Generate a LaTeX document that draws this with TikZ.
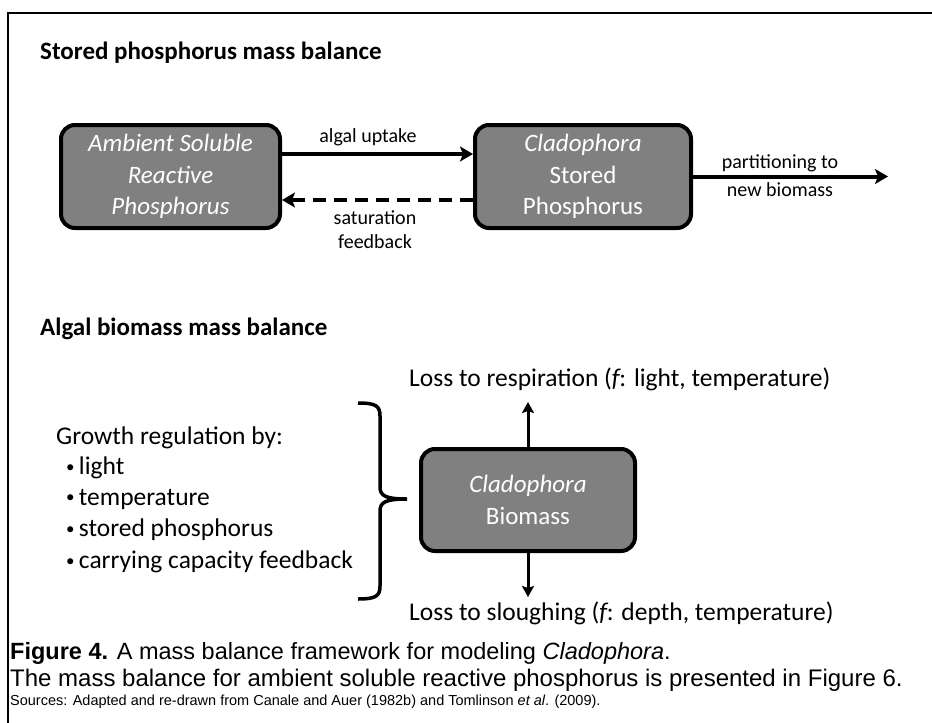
\documentclass[tikz,border=0pt]{standalone}
\usepackage{fontspec}
\setmainfont{Carlito}
\newfontfamily\capfont{Liberation Sans}
\usepackage{tikz}
\usetikzlibrary{arrows.meta}
\definecolor{poolgray}{RGB}{128,128,128}
\newcommand{\bul}{\raisebox{2.5pt}{\fontsize{17}{17}\selectfont\textbullet}\,}

\begin{document}
\begin{tikzpicture}[x=1pt, y=-1pt,
    pool/.style={draw, line width=4pt, rounded corners=14pt, fill=poolgray,
        text=white, align=center, inner sep=0pt,
        font=\fontsize{25}{31.5}\selectfont},
    hdr/.style={anchor=west, inner sep=0pt, font=\fontsize{25}{29}\selectfont\bfseries},
    lbl/.style={inner sep=0pt, font=\fontsize{20}{24}\selectfont},
    note/.style={anchor=west, inner sep=0pt, font=\fontsize{25.5}{30}\selectfont},
    captxt/.style={anchor=west, inner sep=0pt, font=\capfont\fontsize{24}{28}\selectfont},
    flow/.style={line width=4pt, -{Stealth[length=13pt, width=15pt, inset=3pt]}},
    loss/.style={line width=3pt, -{Stealth[length=11pt, width=12pt, inset=2pt]}}]
    \useasboundingbox (0,0) rectangle (932,723);
    \draw[line width=2pt] (932,13) -- (8,13) -- (8,723);

    % stored phosphorus
    \node[hdr] (head1) at (40,53) {Stored phosphorus mass balance};
    \node[pool, minimum width=219pt, minimum height=103pt] (srp) at (170.5,176.5)
        {\itshape Ambient Soluble\\\itshape Reactive\\\itshape Phosphorus};
    \node[pool, minimum width=216pt, minimum height=103pt] (stored) at (583,176.5)
        {\textit{Cladophora}\\Stored\\Phosphorus};
    \coordinate (newbio) at (888,176.5);
    \draw[flow] ([yshift=22.5pt]srp.east) -- ([yshift=22.5pt]stored.west);
    \draw[flow, dash pattern=on 13pt off 8pt] ([yshift=-23.5pt]stored.west) -- ([yshift=-23.5pt]srp.east);
    \draw[flow] (stored.east) -- (newbio);
    \node[lbl] (uptake) at (368,137) {algal uptake};
    \node[lbl, align=center, font=\fontsize{20}{24}\selectfont] (satur) at (375,230) {saturation\\feedback};
    \node[lbl] (part1) at (780,163) {partitioning to};
    \node[lbl] (part2) at (780,190) {new biomass};

    % algal biomass
    \node[hdr] (head2) at (40,329) {Algal biomass mass balance};
    \node[pool, minimum width=214pt, minimum height=102pt] (biomass) at (528,500)
        {\textit{Cladophora}\\Biomass};
    \coordinate (resp) at (528,402);
    \coordinate (slough) at (528,597);
    \draw[loss] (biomass.north) -- (resp);
    \draw[loss] (biomass.south) -- (slough);
    \node[note] (resptxt) at (409,379) {Loss to respiration (\textit{f}\kern-1.5pt: light, temperature)};
    \node[note] (sloughtxt) at (409,613) {Loss to sloughing (\textit{f}\kern-1.5pt: depth, temperature)};

    \node[note] (growth) at (56,438) {Growth regulation by:};
    \node[note] (g1) at (66,468) {\bul light};
    \node[note] (g2) at (66,499) {\bul temperature};
    \node[note] (g3) at (66,530) {\bul stored phosphorus};
    \node[note] (g4) at (66,562) {\bul carrying capacity feedback};
    \draw[line width=3.5pt] (358,403) .. controls (376,403) and (380,406) .. (380,416)
        -- (380,487) .. controls (380,496) and (386,499) .. (407,499)
        .. controls (386,499) and (380,502) .. (380,511)
        -- (380,586) .. controls (380,596) and (376,599) .. (358,599);

    % caption
    \node[captxt, font=\capfont\fontsize{23.5}{28}\selectfont] (cap1) at (10,653)
        {\textbf{Figure 4.} A mass balance framework for modeling \textit{Cladophora}.};
    \node[captxt] (cap2) at (10,680) {The mass balance for ambient soluble reactive phosphorus is presented in Figure 6.};
    \node[captxt, font=\capfont\fontsize{14.5}{18}\selectfont] (cap3) at (10,702)
        {Sources: Adapted and re-drawn from Canale and Auer (1982b) and Tomlinson \textit{et al}. (2009).};
\end{tikzpicture}
\end{document}
